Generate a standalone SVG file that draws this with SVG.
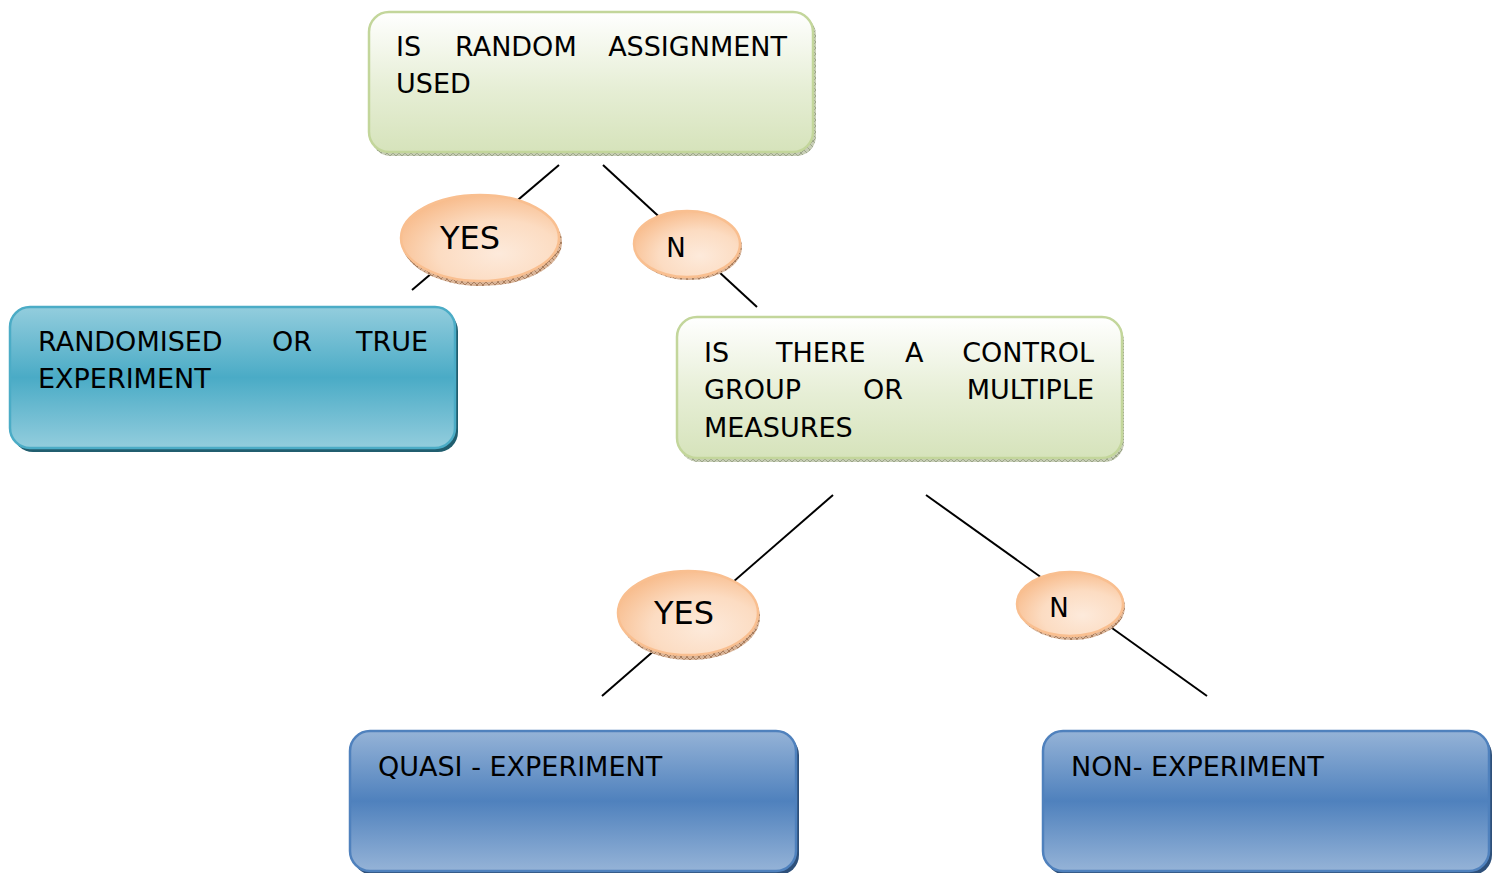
<svg xmlns="http://www.w3.org/2000/svg" width="1500" height="873" viewBox="0 0 1500 873">
  <defs>
    <linearGradient id="gGreen" x1="0" y1="0" x2="0" y2="1">
      <stop offset="0" stop-color="#ffffff"/>
      <stop offset="0.55" stop-color="#e6eed5"/>
      <stop offset="1" stop-color="#d6e3bb"/>
    </linearGradient>
    <linearGradient id="gTeal" x1="0" y1="0" x2="0" y2="1">
      <stop offset="0" stop-color="#93cddd"/>
      <stop offset="0.5" stop-color="#4aabc6"/>
      <stop offset="1" stop-color="#93cddd"/>
    </linearGradient>
    <linearGradient id="gBlue" x1="0" y1="0" x2="0" y2="1">
      <stop offset="0" stop-color="#95b3d7"/>
      <stop offset="0.5" stop-color="#4f81bd"/>
      <stop offset="1" stop-color="#95b3d7"/>
    </linearGradient>
    <radialGradient id="gPeach" cx="0.62" cy="0.68" r="0.7">
      <stop offset="0" stop-color="#fdeadb"/>
      <stop offset="0.55" stop-color="#fcdcc2"/>
      <stop offset="1" stop-color="#f8bd8e"/>
    </radialGradient>
    <pattern id="hatchGreen" width="6" height="6" patternUnits="userSpaceOnUse">
      <rect width="6" height="6" fill="#c7cdb6"/>
      <path d="M0 0L6 6M6 0L0 6" stroke="#8f9a7c" stroke-width="0.8"/>
    </pattern>
    <pattern id="hatchPeach" width="6" height="6" patternUnits="userSpaceOnUse">
      <rect width="6" height="6" fill="#d9b498"/>
      <path d="M0 0L6 6M6 0L0 6" stroke="#9c6e4e" stroke-width="0.8"/>
    </pattern>
    <style>
      .conn { stroke: #000000; stroke-width: 2; fill: none; }
      .txt { font-family: "DejaVu Sans", Verdana, sans-serif; font-size: 27px; fill: #000000; }
      .lbl { font-family: "DejaVu Sans", Verdana, sans-serif; fill: #000000; text-anchor: middle; }
      .greenBox { fill: url(#gGreen); stroke: #c3d69b; stroke-width: 2.5; }
      .greenShadow { fill: url(#hatchGreen); }
      .tealBox { fill: url(#gTeal); stroke: #4bacc6; stroke-width: 2.5; }
      .tealShadow { fill: #215e6f; }
      .blueBox { fill: url(#gBlue); stroke: #4f81bd; stroke-width: 2.5; }
      .blueShadow { fill: #2e507a; }
      .peach { fill: url(#gPeach); stroke: #f9bf90; stroke-width: 2.5; }
      .peachShadow { fill: url(#hatchPeach); }
    </style>
  </defs>

  <rect width="1500" height="873" fill="#ffffff"/>

  <!-- connectors -->
  <g id="connectors">
    <line class="conn" x1="559" y1="165" x2="412" y2="290"/>
    <line class="conn" x1="603" y1="165" x2="757" y2="307"/>
    <line class="conn" x1="833" y1="495" x2="602" y2="696"/>
    <line class="conn" x1="926" y1="495" x2="1207" y2="696"/>
  </g>

  <!-- question: random assignment -->
  <g id="q-random">
    <rect class="greenShadow" x="371" y="15" width="445" height="141" rx="20"/>
    <rect class="greenBox" x="369" y="12" width="444" height="140" rx="20"/>
    <text class="txt" x="396" y="56">IS</text>
    <text class="txt" x="455" y="56">RANDOM</text>
    <text class="txt" x="787" y="56" text-anchor="end">ASSIGNMENT</text>
    <text class="txt" x="396" y="93">USED</text>
  </g>

  <!-- answer labels, first level -->
  <g id="yes-1">
    <ellipse class="peachShadow" cx="482" cy="242" rx="80" ry="44"/>
    <ellipse class="peach" cx="480" cy="238" rx="79" ry="43"/>
    <text class="lbl" x="470" y="249" font-size="32">YES</text>
  </g>
  <g id="no-1">
    <ellipse class="peachShadow" cx="689" cy="247" rx="53" ry="33"/>
    <ellipse class="peach" cx="687" cy="244" rx="53" ry="33"/>
    <text class="lbl" x="676" y="257" font-size="26">N</text>
  </g>

  <!-- outcome: true experiment -->
  <g id="true-experiment">
    <rect class="tealShadow" x="13" y="311" width="445" height="141" rx="20"/>
    <rect class="tealBox" x="10" y="307" width="445" height="141" rx="20"/>
    <text class="txt" x="38" y="351">RANDOMISED</text>
    <text class="txt" x="272" y="351">OR</text>
    <text class="txt" x="428" y="351" text-anchor="end">TRUE</text>
    <text class="txt" x="38" y="388">EXPERIMENT</text>
  </g>

  <!-- question: control group -->
  <g id="q-control">
    <rect class="greenShadow" x="679" y="321" width="445" height="141" rx="20"/>
    <rect class="greenBox" x="677" y="317" width="445" height="141" rx="20"/>
    <text class="txt" x="704" y="362">IS</text>
    <text class="txt" x="776" y="362">THERE</text>
    <text class="txt" x="905" y="362">A</text>
    <text class="txt" x="1094" y="362" text-anchor="end">CONTROL</text>
    <text class="txt" x="704" y="399">GROUP</text>
    <text class="txt" x="863" y="399">OR</text>
    <text class="txt" x="1094" y="399" text-anchor="end">MULTIPLE</text>
    <text class="txt" x="704" y="437">MEASURES</text>
  </g>

  <!-- answer labels, second level -->
  <g id="yes-2">
    <ellipse class="peachShadow" cx="690" cy="617" rx="70" ry="43"/>
    <ellipse class="peach" cx="688" cy="613" rx="70" ry="42"/>
    <text class="lbl" x="684" y="624" font-size="32">YES</text>
  </g>
  <g id="no-2">
    <ellipse class="peachShadow" cx="1072" cy="607" rx="53" ry="33"/>
    <ellipse class="peach" cx="1070" cy="604" rx="53" ry="32"/>
    <text class="lbl" x="1059" y="617" font-size="26">N</text>
  </g>

  <!-- outcome: quasi-experiment -->
  <g id="quasi-experiment">
    <rect class="blueShadow" x="353" y="735" width="446" height="140" rx="20"/>
    <rect class="blueBox" x="350" y="731" width="446" height="140" rx="20"/>
    <text class="txt" x="378" y="776">QUASI - EXPERIMENT</text>
  </g>

  <!-- outcome: non-experiment -->
  <g id="non-experiment">
    <rect class="blueShadow" x="1046" y="735" width="446" height="140" rx="20"/>
    <rect class="blueBox" x="1043" y="731" width="446" height="140" rx="20"/>
    <text class="txt" x="1071" y="776">NON- EXPERIMENT</text>
  </g>
</svg>
